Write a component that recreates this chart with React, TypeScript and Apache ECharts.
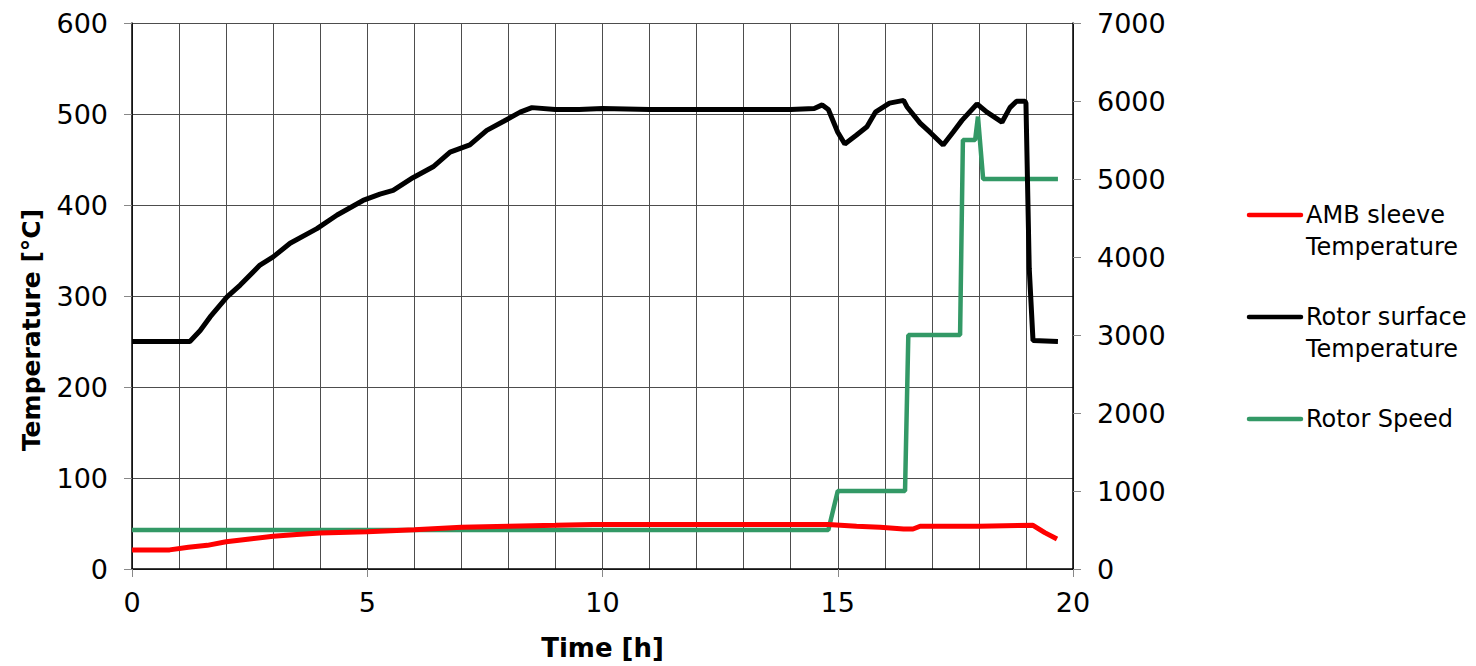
import React, { useEffect, useRef } from "react";
import * as echarts from "echarts";

// Rotor surface temperature (black), left axis
const rotorSurfaceTime = [0, 1.23, 1.45, 1.66, 2.02, 2.3, 2.72, 3.0, 3.36, 3.93, 4.36, 4.91, 5.27, 5.55, 5.97, 6.4, 6.76, 7.18, 7.54, 7.9, 8.25, 8.5, 9.0, 9.5, 10.0, 11.0, 12.0, 13.0, 14.0, 14.5, 14.67, 14.8, 15.0, 15.15, 15.4, 15.62, 15.8, 16.1, 16.4, 16.47, 16.75, 16.96, 17.24, 17.45, 17.64, 17.96, 18.17, 18.49, 18.66, 18.8, 18.98, 19.0, 19.07, 19.15, 19.68];
const rotorSurfaceTemp = [250, 250, 262, 277, 299, 312, 334, 343, 358, 374, 389, 405, 412, 416, 430, 442, 458, 466, 482, 492, 502, 507, 505, 505, 506, 505, 505, 505, 505, 506, 510, 505, 480, 467, 477, 486, 502, 512, 515, 508, 490, 480, 466, 480, 493, 511, 502, 491, 507, 514, 514, 512, 330, 251, 250];

// AMB sleeve temperature (red), left axis
const ambTime = [0, 0.8, 1.2, 1.6, 2.0, 2.5, 3.0, 3.5, 4.0, 5.0, 6.0, 7.0, 8.0, 9.0, 9.8, 12.0, 14.8, 15.4, 15.9, 16.4, 16.6, 16.75, 18.0, 19.15, 19.4, 19.66];
const ambTemp = [21, 21, 24, 26, 30, 33, 36, 38, 39.5, 41, 43, 46, 47, 48, 49, 49, 49, 47, 46, 44, 44, 47, 47, 48, 40, 33];

// Rotor speed (green), right axis
const speedTime = [0, 14.8, 15.0, 16.43, 16.5, 17.6, 17.66, 17.92, 17.98, 18.09, 19.68];
const speedValue = [500, 500, 1000, 1000, 3000, 3000, 5500, 5500, 5800, 5000, 5000];

const legendNames = ["AMB sleeve\nTemperature", "Rotor surface\nTemperature", "Rotor Speed"];
const colors = ["#FF0000", "#000000", "#339966"];

const zip = (a: number[], b: number[]) => a.map((v, i) => [v, b[i]]);

const FONT = "DejaVu Sans";

export default function App() {
  const ref = useRef<HTMLDivElement>(null);
  useEffect(() => {
    if (!ref.current) return;
    const chart = echarts.init(ref.current, undefined, { renderer: "svg" });
    const legendTops = [199, 301, 403];
    const legendLineY = [215, 317, 419];
    const graphic: any[] = [];
    legendNames.forEach((n, i) => {
      graphic.push({
        type: "line",
        shape: { x1: 1249, y1: legendLineY[i], x2: 1301, y2: legendLineY[i] },
        style: { stroke: colors[i], lineWidth: 4.5, lineCap: "round" },
      });
      graphic.push({
        type: "text",
        x: 1306,
        y: legendTops[i],
        style: {
          text: n,
          fill: "#000",
          font: `24px "${FONT}"`,
          lineHeight: 32,
          verticalAlign: "top",
          align: "left",
        },
      });
    });
    const labelStyle = { fontSize: 27, color: "#000", fontFamily: FONT };
    chart.setOption({
      animation: false,
      backgroundColor: "#fff",
      textStyle: { fontFamily: FONT },
      grid: { left: 132, right: 403, top: 23, bottom: 97, containLabel: false },
      xAxis: {
        type: "value",
        min: 0,
        max: 20,
        interval: 5,
        name: "Time [h]",
        nameLocation: "middle",
        nameGap: 66,
        nameTextStyle: { fontFamily: FONT, fontSize: 26, fontWeight: "bold", color: "#000" },
        axisLine: { show: true, lineStyle: { color: "#000", width: 1.5 } },
        axisTick: { show: true, length: 8, lineStyle: { color: "#888" } },
        axisLabel: { margin: 20, ...labelStyle },
        splitLine: { show: true, lineStyle: { color: "#4d4d4d", width: 1 } },
        minorTick: { show: false, splitNumber: 5 },
        minorSplitLine: { show: true, lineStyle: { color: "#4d4d4d", width: 1 } },
      },
      yAxis: [
        {
          type: "value",
          min: 0,
          max: 600,
          interval: 100,
          name: "Temperature [°C]",
          nameLocation: "middle",
          nameGap: 88,
          nameTextStyle: {
            fontFamily: FONT,
            fontSize: 25,
            fontWeight: "bold",
            color: "#000",
            padding: [0, 68, 0, 0],
          },
          axisLine: { show: true, lineStyle: { color: "#000", width: 1.5 } },
          axisTick: { show: true, length: 8, lineStyle: { color: "#888" } },
          axisLabel: { margin: 24, ...labelStyle },
          splitLine: { show: true, lineStyle: { color: "#4d4d4d", width: 1 } },
        },
        {
          type: "value",
          min: 0,
          max: 7000,
          interval: 1000,
          position: "right",
          axisLine: { show: true, lineStyle: { color: "#000", width: 1.5 } },
          axisTick: { show: true, length: 8, lineStyle: { color: "#888" } },
          axisLabel: { margin: 24, ...labelStyle, formatter: (v: number) => String(v) },
          splitLine: { show: false },
        },
      ],
      graphic,
      series: [
        {
          name: "Rotor Speed",
          type: "line",
          yAxisIndex: 1,
          data: zip(speedTime, speedValue),
          symbol: "none",
          lineStyle: { color: colors[2], width: 4.5 },
          itemStyle: { color: colors[2] },
        },
        {
          name: "AMB sleeve Temperature",
          type: "line",
          yAxisIndex: 0,
          data: zip(ambTime, ambTemp),
          symbol: "none",
          lineStyle: { color: colors[0], width: 5 },
          itemStyle: { color: colors[0] },
        },
        {
          name: "Rotor surface Temperature",
          type: "line",
          yAxisIndex: 0,
          data: zip(rotorSurfaceTime, rotorSurfaceTemp),
          symbol: "none",
          lineStyle: { color: colors[1], width: 5 },
          itemStyle: { color: colors[1] },
        },
      ],
    });
    return () => chart.dispose();
  }, []);
  return <div ref={ref} style={{ position: "absolute", left: 0, top: 0, width: 1476, height: 666 }} />;
}
